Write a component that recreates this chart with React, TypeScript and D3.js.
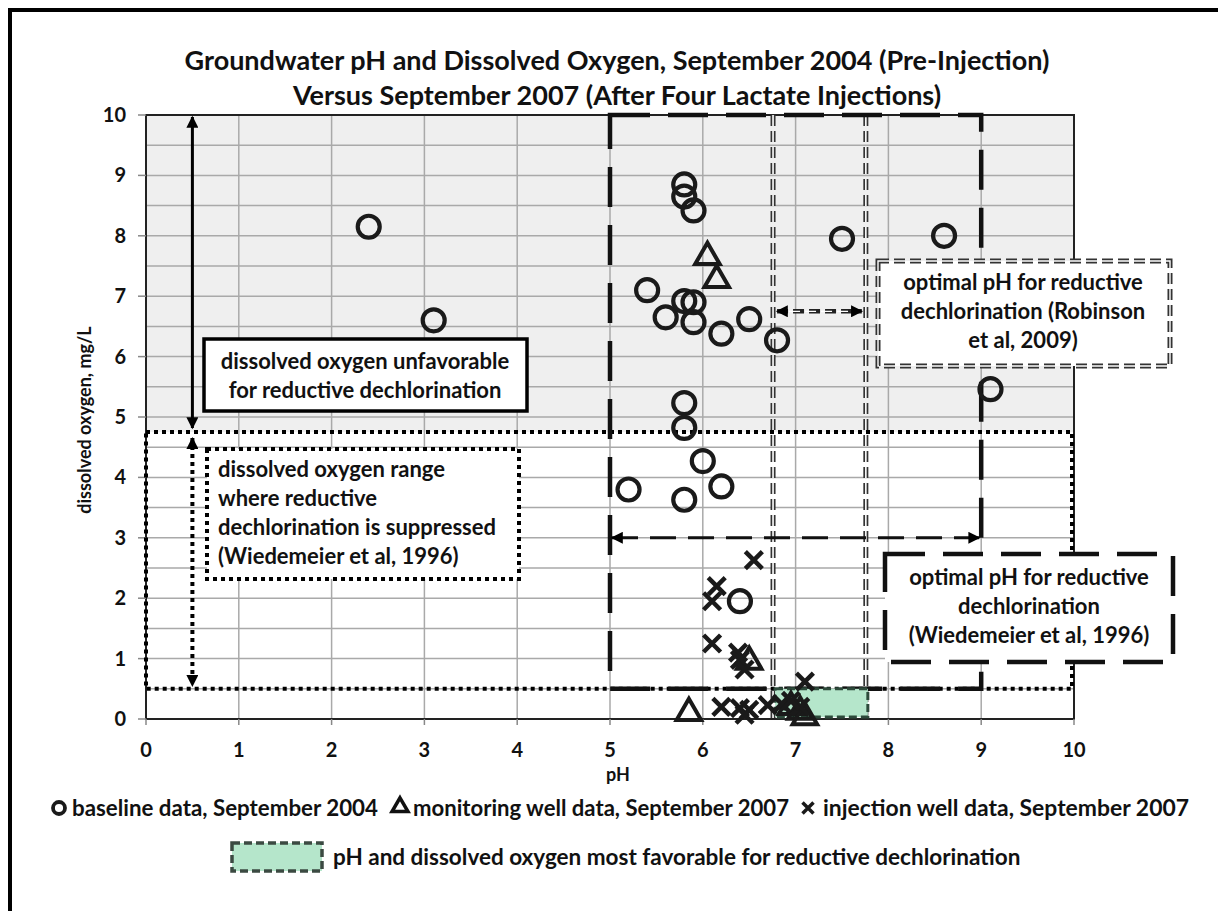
import * as d3 from 'd3';

const baselinePH = [2.4, 3.1, 5.8, 5.8, 5.9, 5.4, 5.6, 5.8, 5.9, 5.9, 6.2, 6.5, 6.8, 7.5, 8.6, 9.1, 5.8, 5.8, 6.0, 5.2, 5.8, 6.2, 6.4];
const baselineDO = [8.15, 6.6, 8.85, 8.65, 8.42, 7.1, 6.65, 6.92, 6.9, 6.57, 6.38, 6.62, 6.27, 7.95, 8.0, 5.46, 5.23, 4.82, 4.27, 3.8, 3.63, 3.85, 1.95];

const monitoringPH = [6.05, 6.15, 5.85, 6.5, 6.95, 7.05, 7.1];
const monitoringDO = [7.65, 7.27, 0.1, 0.95, 0.2, 0.12, 0.03];

const injectionPH = [6.55, 6.15, 6.1, 6.1, 6.38, 6.4, 6.45, 7.1, 6.2, 6.4, 6.5, 6.45, 6.7, 6.85, 7.05, 6.95];
const injectionDO = [2.63, 2.2, 1.95, 1.25, 1.1, 0.98, 0.82, 0.62, 0.2, 0.18, 0.15, 0.07, 0.23, 0.25, 0.2, 0.3];

const xTicks = [0, 1, 2, 3, 4, 5, 6, 7, 8, 9, 10];
const yTicks = [0, 1, 2, 3, 4, 5, 6, 7, 8, 9, 10];
const yGrid = d3.range(0, 10.01, 0.5);

// reference ranges
const doUnfavorable = [4.75, 10];
const doSuppressed = [0.5, 4.75];
const phWiedemeier = [5, 9];
const phRobinson = [6.8, 7.8];

const FONT = 'Lato, "Open Sans", sans-serif';

export default function App() {
  const W = 1218;
  const H = 911;
  const x = d3.scaleLinear().domain([0, 10]).range([146, 1074]);
  const y = d3.scaleLinear().domain([0, 10]).range([719, 115]);

  const circleMark = (cx: number, cy: number, r: number, sw: number, key: string) => (
    <circle key={key} cx={cx} cy={cy} r={r} fill="none" stroke="#1a1a1a" strokeWidth={sw} />
  );
  const triPath = d3.symbol().type(d3.symbolTriangle).size(260)();
  const triSmall = d3.symbol().type(d3.symbolTriangle).size(110)();
  const xMark = (cx: number, cy: number, s: number, sw: number, key: string) => (
    <path key={key} d={`M${cx - s},${cy - s}L${cx + s},${cy + s}M${cx - s},${cy + s}L${cx + s},${cy - s}`}
      stroke="#1a1a1a" strokeWidth={sw} fill="none" />
  );

  const txt = { fontFamily: FONT, fontWeight: 700, fill: '#111' } as const;
  const AN = 22;
  const LG = 22.5;

  return (
    <svg width={W} height={H} style={{ position: 'absolute', left: 0, top: 0, background: '#fff' }}>
      <defs>
        <marker id="ahB" viewBox="0 0 10 10" refX="9" refY="5" markerWidth="14" markerHeight="12" orient="auto-start-reverse" markerUnits="userSpaceOnUse">
          <path d="M0,0L10,5L0,10z" fill="#000" />
        </marker>
      </defs>

      {/* outer frame */}
      <rect x={10} y={10} width={1230} height={930} fill="none" stroke="#000" strokeWidth={4} />

      {/* title */}
      <text x={617} y={70} textAnchor="middle" fontSize={27} {...txt}>
        Groundwater pH and Dissolved Oxygen, September 2004 (Pre-Injection)
      </text>
      <text x={617} y={105} textAnchor="middle" fontSize={27} {...txt}>
        Versus September 2007 (After Four Lactate Injections)
      </text>

      {/* shaded unfavorable zone */}
      <rect x={x(0)} y={y(doUnfavorable[1])} width={x(10) - x(0)} height={y(doUnfavorable[0]) - y(doUnfavorable[1])} fill="#efefef" />

      {/* grid */}
      {yGrid.map(v => (
        <line key={'gy' + v} x1={x(0)} x2={x(10)} y1={y(v)} y2={y(v)} stroke="#a9a9a9" strokeWidth={1.5} />
      ))}
      {xTicks.map(v => (
        <line key={'gx' + v} x1={x(v)} x2={x(v)} y1={y(0)} y2={y(10)} stroke="#a9a9a9" strokeWidth={1.5} />
      ))}

      {/* axes */}
      <rect x={x(0)} y={y(10)} width={x(10) - x(0)} height={y(0) - y(10)} fill="none" stroke="#222" strokeWidth={2} />
      {yTicks.map(v => (
        <g key={'ty' + v}>
          <line x1={x(0) - 8} x2={x(0)} y1={y(v)} y2={y(v)} stroke="#888" strokeWidth={1.5} />
          <text x={126} y={y(v) + 7} textAnchor="end" fontSize={20} {...txt}>{v}</text>
        </g>
      ))}
      {xTicks.map(v => (
        <g key={'tx' + v}>
          <line x1={x(v)} x2={x(v)} y1={y(0)} y2={y(0) + 6} stroke="#888" strokeWidth={1.5} />
          <text x={x(v)} y={757} textAnchor="middle" fontSize={20} {...txt}>{v}</text>
        </g>
      ))}
      <text x={618} y={781} textAnchor="middle" fontSize={18} {...txt}>pH</text>
      <text transform="translate(91,420) rotate(-90)" textAnchor="middle" fontSize={18} {...txt}>
        dissolved oxygen, mg/L
      </text>

      {/* Robinson pH range: double dashed verticals */}
      {phRobinson.map(v => (
        <g key={'rb' + v}>
          <line x1={x(v) - 4} x2={x(v) - 4} y1={y(10)} y2={y(0)} stroke="#333" strokeWidth={5} strokeDasharray="11,5" />
          <line x1={x(v) - 4} x2={x(v) - 4} y1={y(10)} y2={y(0)} stroke="#fff" strokeWidth={1.6} strokeDasharray="11,5" />
        </g>
      ))}

      {/* suppressed DO range (dotted box) */}
      <rect x={x(0)} y={y(doSuppressed[1])} width={x(10) - x(0) - 2} height={y(doSuppressed[0]) - y(doSuppressed[1])}
        fill="none" stroke="#000" strokeWidth={4} strokeDasharray="4,4" />

      {/* Wiedemeier pH range (long dashed box) */}
      <rect x={x(phWiedemeier[0])} y={y(10)} width={x(phWiedemeier[1]) - x(phWiedemeier[0])} height={y(0.5) - y(10)}
        fill="none" stroke="#111" strokeWidth={4.5} strokeDasharray="40,18" />
      <line x1={x(phWiedemeier[0]) + 2} x2={x(phWiedemeier[1]) - 2} y1={y(3)} y2={y(3)} stroke="#111" strokeWidth={3}
        strokeDasharray="26,12" markerStart="url(#ahB)" markerEnd="url(#ahB)" />

      {/* most favorable zone */}
      <rect x={x(phRobinson[0]) - 2} y={y(0.5)} width={x(phRobinson[1]) - x(phRobinson[0])} height={y(0) - y(0.5) - 2}
        fill="#b5e6cb" stroke="#2d4a3b" strokeWidth={3} strokeDasharray="8,4" />

      {/* DO arrows at pH 0.5 */}
      <line x1={x(0.5)} x2={x(0.5)} y1={y(10) + 2} y2={y(4.75) - 4} stroke="#000" strokeWidth={3}
        markerStart="url(#ahB)" markerEnd="url(#ahB)" />
      <line x1={x(0.5)} x2={x(0.5)} y1={y(4.75) + 6} y2={y(0.5) - 3} stroke="#000" strokeWidth={4} strokeDasharray="4,4"
        markerStart="url(#ahB)" markerEnd="url(#ahB)" />

      {/* Robinson arrow */}
      <line x1={x(6.8)} x2={x(7.8) - 8} y1={y(6.75)} y2={y(6.75)} stroke="#222" strokeWidth={4.5} strokeDasharray="11,5"
        markerStart="url(#ahB)" markerEnd="url(#ahB)" />
      <line x1={x(6.8) + 12} x2={x(7.8) - 20} y1={y(6.75)} y2={y(6.75)} stroke="#fff" strokeWidth={1.3} strokeDasharray="11,5" />

      {/* data */}
      {baselinePH.map((p, i) => circleMark(x(p), y(baselineDO[i]), 11, 4.2, 'b' + i))}
      {monitoringPH.map((p, i) => (
        <path key={'m' + i} d={triPath as string} transform={`translate(${x(p)},${y(monitoringDO[i])})`}
          fill="none" stroke="#1a1a1a" strokeWidth={4} strokeLinejoin="miter" />
      ))}
      {injectionPH.map((p, i) => xMark(x(p), y(injectionDO[i]), 8.5, 4.5, 'j' + i))}

      {/* annotation boxes */}
      <rect x={204} y={339} width={323} height={72} fill="#fff" stroke="#000" strokeWidth={3.5} />
      <text x={365} y={369} textAnchor="middle" fontSize={AN} {...txt}>dissolved oxygen unfavorable</text>
      <text x={365} y={398} textAnchor="middle" fontSize={AN} {...txt}>for reductive dechlorination</text>

      <rect x={207} y={449} width={312} height={130} fill="#fff" stroke="#000" strokeWidth={4} strokeDasharray="4,4" />
      {['dissolved oxygen range', 'where reductive', 'dechlorination is suppressed', '(Wiedemeier et al, 1996)'].map((s, i) => (
        <text key={'s' + i} x={218} y={477 + i * 29} fontSize={AN} {...txt}>{s}</text>
      ))}

      <rect x={878} y={261} width={292} height={105} fill="#fff" stroke="#333" strokeWidth={5} strokeDasharray="11,5" />
      <rect x={878} y={261} width={292} height={105} fill="none" stroke="#fff" strokeWidth={1.4} strokeDasharray="11,5" />
      {['optimal pH for reductive', 'dechlorination (Robinson', 'et al, 2009)'].map((s, i) => (
        <text key={'r' + i} x={1023} y={290 + i * 29} textAnchor="middle" fontSize={AN} {...txt}>{s}</text>
      ))}

      <rect x={885} y={554} width={288} height={108} fill="#fff" stroke="#111" strokeWidth={4.5} strokeDasharray="40,18" />
      {['optimal pH for reductive', 'dechlorination', '(Wiedemeier et al, 1996)'].map((s, i) => (
        <text key={'w' + i} x={1029} y={585 + i * 29} textAnchor="middle" fontSize={AN} {...txt}>{s}</text>
      ))}

      {/* legend */}
      {circleMark(59, 808, 6, 3.8, 'lc')}
      <text x={72} y={816} fontSize={LG} textLength={306} lengthAdjust="spacingAndGlyphs" {...txt}>baseline data, September 2004</text>
      <path d={triSmall as string} transform="translate(400,807)" fill="none" stroke="#111" strokeWidth={3.5} />
      <text x={413} y={816} fontSize={LG} textLength={376} lengthAdjust="spacingAndGlyphs" {...txt}>monitoring well data, September 2007</text>
      {xMark(808, 808, 5.5, 3.5, 'lx')}
      <text x={823} y={816} fontSize={LG} textLength={366} lengthAdjust="spacingAndGlyphs" {...txt}>injection well data, September 2007</text>

      <rect x={232} y={843} width={90} height={28} fill="#b5e6cb" stroke="#3b4a42" strokeWidth={3.5} strokeDasharray="8,4" />
      <text x={333} y={865} fontSize={LG} {...txt}>pH and dissolved oxygen most favorable for reductive dechlorination</text>
    </svg>
  );
}
